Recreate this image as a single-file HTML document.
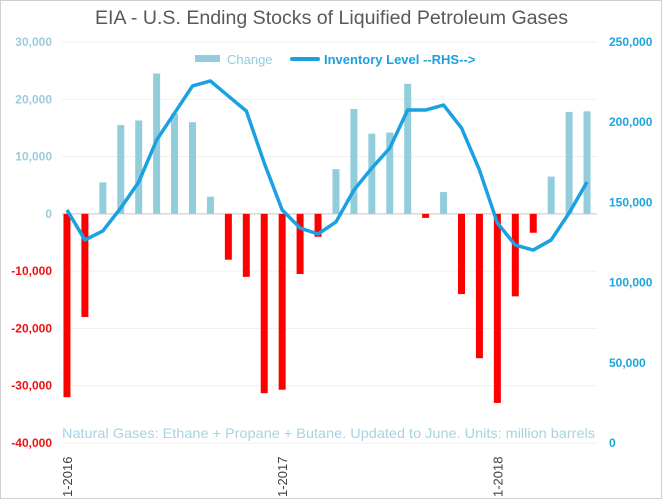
<!DOCTYPE html>
<html><head><meta charset="utf-8"><style>
body{margin:0;background:#fff;}
svg{display:block;font-family:"Liberation Sans",sans-serif;}
</style></head><body>
<svg id="c" width="662" height="499">
<rect x="0.5" y="0.5" width="661" height="498" fill="#fff" stroke="#d0d0d0"/>
<text x="95" y="24" textLength="473" lengthAdjust="spacingAndGlyphs" font-size="19" fill="#595959">EIA - U.S. Ending Stocks of Liquified Petroleum Gases</text>
<g id="grid"></g><g id="bars"></g><g id="line"></g><g id="axes"></g>
<g>
<rect x="195" y="55" width="25" height="7" fill="#92cddc"/>
<text x="227" y="64" font-size="13" fill="#92cddc">Change</text>
<line x1="292" y1="59" x2="318" y2="59" stroke="#1ba1e2" stroke-width="4" stroke-linecap="round"/>
<text x="324" y="64" font-size="13" font-weight="bold" fill="#1ba1e2">Inventory Level --RHS--&gt;</text>
</g>
<text x="62" y="438" textLength="533" lengthAdjust="spacingAndGlyphs" font-size="14" fill="#a6d3e3">Natural Gases: Ethane + Propane + Butane. Updated to June. Units: million barrels</text>
</svg>
<script>
const months = ["1-2016","2-2016","3-2016","4-2016","5-2016","6-2016","7-2016","8-2016","9-2016","10-2016","11-2016","12-2016","1-2017","2-2017","3-2017","4-2017","5-2017","6-2017","7-2017","8-2017","9-2017","10-2017","11-2017","12-2017","1-2018","2-2018","3-2018","4-2018","5-2018","6-2018"];
const changeValues = [-32000,-18000,5500,15500,16300,24500,17500,16000,3000,-8000,-11000,-31300,-30700,-10500,-4000,7800,18300,14000,14200,22700,-700,3800,-14000,-25200,-33000,-14400,-3300,6500,17800,17900];
const inventoryValues = [145300,126600,132200,146500,162700,188900,205700,222600,225700,216300,207000,174600,145300,134000,130300,137800,157700,171400,183900,207600,207600,210700,196400,170200,137200,123400,120300,126600,143400,162700];
const leftTicks = [30000,20000,10000,0,-10000,-20000,-30000,-40000];
const rightTicks = [250000,200000,150000,100000,50000,0];
const xLabels = ["1-2016","1-2017","1-2018"];

const NS="http://www.w3.org/2000/svg";
const X0=58, PW=538, YT=42, YB=443;
const step=PW/months.length;
const xc=i=>X0+step*(i+0.5);
const yL=v=>YT+(30000-v)/70000*(YB-YT);
const yR=v=>YB-v/250000*(YB-YT);
function mk(tag,attrs,parent){const e=document.createElementNS(NS,tag);for(const k in attrs)e.setAttribute(k,attrs[k]);document.getElementById(parent).appendChild(e);return e;}
const fmt=v=>v.toLocaleString("en-US");

leftTicks.forEach(t=>{
  const y=yL(t);
  const g=mk("line",{x1:X0+4,x2:597,y1:y,y2:y,stroke:t===0?"#c8c8c8":"#efefef","stroke-width":1},"grid");
  
  
  const tx=mk("text",{x:52,y:y+4,"text-anchor":"end","font-size":12,"font-weight":"bold",fill:t<0?"#ee1111":"#9ccbdc"},"axes");
  tx.textContent=fmt(t);
  
  
});
rightTicks.forEach(t=>{
  const tx=mk("text",{x:609,y:yR(t)+4,"font-size":12,"font-weight":"bold",fill:"#1aa6dc"},"axes");
  tx.textContent=fmt(t);
  
  
});
xLabels.forEach(l=>{
  const i=months.indexOf(l);
  const x=xc(i)+5;
  const tx=mk("text",{x:x,y:497,"font-size":13,fill:"#404040",transform:`rotate(-90 ${x} 497)`},"axes");
  tx.textContent=l;
  
  
});
changeValues.forEach((v,i)=>{
  const y0=yL(0), y1=yL(v);
  const b=mk("rect",{x:xc(i)-3.5,y:Math.min(y0,y1),width:7,height:Math.abs(y1-y0),fill:v<0?"#ff0000":"#92cddc"},"bars");
  
  
});
const p=mk("polyline",{points:inventoryValues.map((v,i)=>xc(i)+","+yR(v)).join(" "),fill:"none",stroke:"#1ba1e2","stroke-width":3.5,"stroke-linejoin":"round"},"line");


</script>
</body></html>
